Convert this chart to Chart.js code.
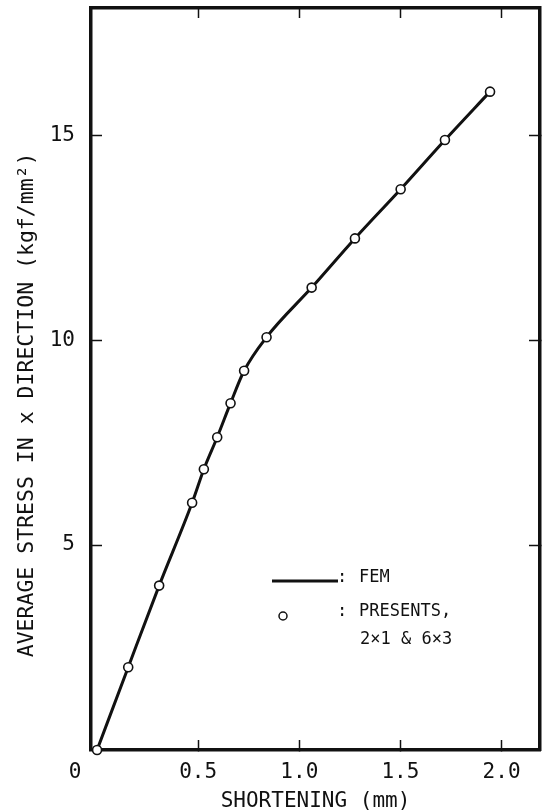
<!DOCTYPE html>
<html>
<head>
<meta charset="utf-8">
<script src="https://cdn.jsdelivr.net/npm/chart.js@4.4.0/dist/chart.umd.min.js"></script>
<style>
  html, body { margin: 0; padding: 0; background: #fff; }
  canvas { display: block; }
</style>
</head>
<body>
<canvas id="myChart" width="551" height="812"></canvas>
<script>
// values
const shortening = [0, 0.154, 0.307, 0.470, 0.528, 0.594, 0.660, 0.727, 0.838, 1.061, 1.275, 1.501, 1.720, 1.943];
const stress = [0, 2.02, 4.01, 6.03, 6.85, 7.63, 8.46, 9.25, 10.07, 11.28, 12.48, 13.68, 14.88, 16.06];

// FEM curve, runs through the same places
const femShortening = [0, 0.154, 0.307, 0.470, 0.528, 0.594, 0.660, 0.727, 0.838, 1.061, 1.275, 1.501, 1.720, 1.943];
const femStress = [0, 2.02, 4.01, 6.03, 6.85, 7.63, 8.46, 9.25, 10.07, 11.28, 12.48, 13.68, 14.88, 16.06];

const xTicks = [0.5, 1.0, 1.5, 2.0];
const yTicks = [5, 10, 15];

const ink = '#111';
const mono = "'DejaVu Sans Mono', monospace";
Chart.defaults.font.family = mono;
Chart.defaults.color = ink;

const toPoints = (xs, ys) => xs.map((v, i) => ({ x: v, y: ys[i] }));

// ticks point inwards, like the paper plot
function innerGrid(len) {
    return { drawOnChartArea: false, tickLength: -len, tickWidth: 1.5, tickColor: ink };
}
const frame = { color: ink, width: 3.5 };

// the "0" at the corner and the boxed-in legend
const extras = {
    id: 'extras',
    afterDraw(chart) {
        const ctx = chart.ctx;
        const x = chart.scales.x;
        ctx.save();
        ctx.fillStyle = ink;
        ctx.strokeStyle = ink;
        ctx.textBaseline = 'middle';

        ctx.font = '21px ' + mono;
        ctx.textAlign = 'center';
        ctx.fillText('0', x.getPixelForValue(0) - 22, 772.5);

        // legend
        ctx.lineWidth = 3;
        ctx.beginPath();
        ctx.moveTo(272, 581);
        ctx.lineTo(338, 581);
        ctx.stroke();

        ctx.lineWidth = 1.5;
        ctx.fillStyle = '#fff';
        ctx.beginPath();
        ctx.arc(283, 616, 4, 0, Math.PI * 2);
        ctx.fill();
        ctx.stroke();

        ctx.fillStyle = ink;
        ctx.font = '17px ' + mono;
        ctx.fillText(':', 342, 578);
        ctx.fillText(':', 342, 612);
        ctx.textAlign = 'left';
        ctx.fillText('FEM', 359, 578);
        ctx.fillText('PRESENTS,', 359, 612);
        ctx.fillText('2\u00d71 & 6\u00d73', 360, 640);
        ctx.restore();
    }
};

// keep the frame where the paper has it
function fixHeight(h) {
    return s => { s.height = h; s.paddingLeft = 0; s.paddingRight = 0; };
}
function fixWidth(w) {
    return s => { s.width = w; s.paddingTop = 0; s.paddingBottom = 0; };
}

const ctx = document.getElementById('myChart');

new Chart(ctx, {
    type: 'scatter',
    data: {
        datasets: [{
            label: 'PRESENTS, 2x1 & 6x3',
            data: toPoints(shortening, stress),
            showLine: false,
            pointRadius: 4.5,
            pointBorderWidth: 1.6,
            pointBackgroundColor: '#fff',
            pointBorderColor: ink,
            clip: false,
            order: 0
        },
        {
            label: 'FEM',
            data: toPoints(femShortening, femStress),
            showLine: true,
            borderColor: ink,
            borderWidth: 3,
            pointRadius: 0,
            cubicInterpolationMode: 'monotone',
            order: 1
        }]
    },
    options: {
        responsive: false,
        devicePixelRatio: 1,
        animation: false,
        layout: { padding: 0 },
        plugins: {
            legend: { display: false },
            tooltip: { enabled: false }
        },
        scales: {
            x: {
                type: 'linear',
                position: 'bottom',
                min: -0.03,
                max: 2.19,
                afterBuildTicks: s => { s.ticks = xTicks.map(v => ({ value: v })); },
                afterFit: fixHeight(62),
                ticks: {
                    padding: 20,
                    maxRotation: 0,
                    font: { size: 21 },
                    callback: v => v.toFixed(1)
                },
                grid: innerGrid(10),
                border: frame,
                title: {
                    display: true,
                    text: 'SHORTENING (mm)',
                    font: { size: 21, lineHeight: 1 },
                    padding: 0
                }
            },
            xTop: {
                type: 'linear',
                position: 'top',
                min: -0.03,
                max: 2.19,
                afterBuildTicks: s => { s.ticks = xTicks.map(v => ({ value: v })); },
                afterFit: fixHeight(8),
                ticks: { display: false },
                grid: innerGrid(10),
                border: frame
            },
            y: {
                type: 'linear',
                position: 'left',
                min: 0,
                max: 18.1,
                afterBuildTicks: s => { s.ticks = yTicks.map(v => ({ value: v })); },
                afterFit: fixWidth(91),
                ticks: {
                    padding: 27,
                    font: { size: 21 },
                    callback: v => String(v)
                },
                grid: innerGrid(11),
                border: frame,
                title: {
                    display: true,
                    text: 'AVERAGE STRESS IN x DIRECTION (kgf/mm\u00b2)    ',
                    font: { size: 21.5 },
                    padding: { top: 15, bottom: 0 }
                }
            },
            yRight: {
                type: 'linear',
                position: 'right',
                min: 0,
                max: 18.1,
                afterBuildTicks: s => { s.ticks = yTicks.map(v => ({ value: v })); },
                afterFit: fixWidth(11),
                ticks: { display: false },
                grid: innerGrid(11),
                border: frame
            }
        }
    },
    plugins: [extras]
});
</script>
</body>
</html>
